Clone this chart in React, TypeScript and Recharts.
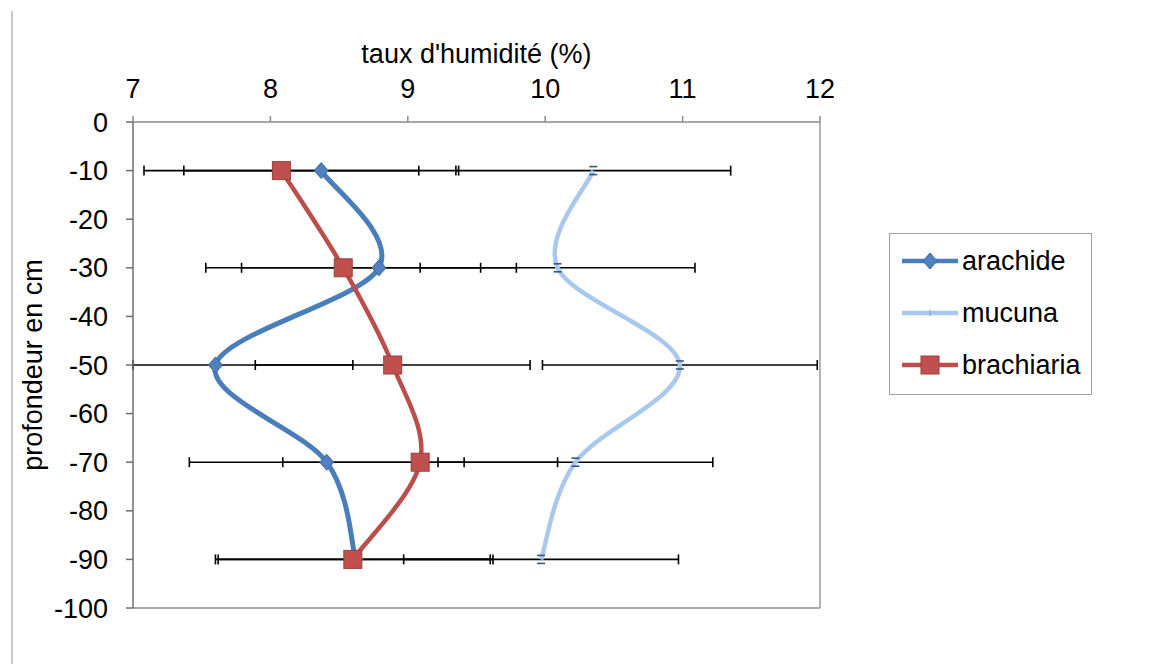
import React from "react";
import {
  LineChart,
  Line,
  XAxis,
  YAxis,
  ErrorBar,
  Legend,
  ReferenceLine,
} from "recharts";

const depths = [-10, -30, -50, -70, -90];
const arachide = [8.37, 8.79, 7.6, 8.41, 8.62];
const mucuna = [10.35, 10.09, 10.98, 10.22, 9.97];
const brachiaria = [8.08, 8.53, 8.89, 9.09, 8.6];
const arachideErr = [1, 1, 1, 1, 1];
const mucunaErr = [1, 1, 1, 1, 1];
const brachiariaErr = [1, 1, 1, 1, 1];

const xTicks = [7, 8, 9, 10, 11, 12];
const yTicks = [0, -10, -20, -30, -40, -50, -60, -70, -80, -90, -100];
const seriesOrder = ["arachide", "mucuna", "brachiaria"];

const X_MIN = xTicks[0];
const X_MAX = xTicks[xTicks.length - 1];

const data = depths.map((depth, i) => ({
  depth,
  arachide: arachide[i],
  arachideErr: arachideErr[i],
  mucuna: mucuna[i],
  mucunaErr: mucunaErr[i],
  brachiaria: brachiaria[i],
  brachiariaErr: brachiariaErr[i],
}));

// error bar cut at the plot edges, like Excel does
const clippedErr = (key: string) => (d: any) => [
  Math.min(d[key + "Err"], d[key] - X_MIN),
  Math.min(d[key + "Err"], X_MAX - d[key]),
];

const FONT = "'Liberation Sans', Arial, sans-serif";
const BLUE = "#4a7ebb";
const LIGHT = "#a9c8ee";
const RED = "#b94e4a";

// Excel-like smoothed line (Catmull-Rom through the points)
function smoothCurve(context: any) {
  let pts: number[][] = [];
  return {
    areaStart() {},
    areaEnd() {},
    lineStart() {
      pts = [];
    },
    point(x: number, y: number) {
      pts.push([+x, +y]);
    },
    lineEnd() {
      if (!pts.length) return;
      context.moveTo(pts[0][0], pts[0][1]);
      for (let i = 0; i < pts.length - 1; i++) {
        const p0 = pts[i - 1] || pts[i];
        const p1 = pts[i];
        const p2 = pts[i + 1];
        const p3 = pts[i + 2] || p2;
        context.bezierCurveTo(
          p1[0] + (p2[0] - p0[0]) / 6,
          p1[1] + (p2[1] - p0[1]) / 6,
          p2[0] - (p3[0] - p1[0]) / 6,
          p2[1] - (p3[1] - p1[1]) / 6,
          p2[0],
          p2[1]
        );
      }
    },
  };
}

const Diamond = (props: any) => {
  const { cx, cy, index } = props;
  if (cx == null || cy == null) return null;
  return (
    <path
      key={`a-${index}`}
      d={`M${cx},${cy - 8}L${cx + 7},${cy}L${cx},${cy + 8}L${cx - 7},${cy}Z`}
      fill="#4f81bd"
      stroke="#3d669c"
      strokeWidth={1}
    />
  );
};

const Square = (props: any) => {
  const { cx, cy, index } = props;
  if (cx == null || cy == null) return null;
  return (
    <rect
      key={`b-${index}`}
      x={cx - 9}
      y={cy - 9}
      width={18}
      height={18}
      fill="#c0504d"
      stroke="#99403d"
      strokeWidth={1}
    />
  );
};

const Dash = (props: any) => {
  const { cx, cy, index } = props;
  if (cx == null || cy == null) return null;
  return (
    <g key={`m-${index}`} stroke="#3a5580" strokeWidth={1.6}>
      <line x1={cx - 4} x2={cx + 4} y1={cy - 4} y2={cy - 4} />
      <line x1={cx - 4} x2={cx + 4} y1={cy + 4} y2={cy + 4} />
    </g>
  );
};

const LegendBox = (props: any) => {
  const { payload = [] } = props;
  const items = [...payload].sort(
    (a: any, b: any) =>
      seriesOrder.indexOf(a.dataKey) - seriesOrder.indexOf(b.dataKey)
  );
  return (
    <div
      style={{
        border: "1.5px solid #a0a0a0",
        background: "#fff",
        padding: "1px 10px 3px 12px",
        fontFamily: FONT,
        fontSize: 27,
        color: "#000",
      }}
    >
      {items.map((item: any) => (
        <div
          key={item.value}
          style={{ display: "flex", alignItems: "center", height: 52 }}
        >
          <svg width={58} height={20} style={{ marginRight: 2 }}>
            <line
              x1={0}
              x2={56}
              y1={10}
              y2={10}
              stroke={item.color}
              strokeWidth={4.5}
            />
            {item.dataKey === "arachide" && (
              <path d="M28,2L35,10L28,18L21,10Z" fill="#4f81bd" stroke="#3d669c" />
            )}
            {item.dataKey === "mucuna" && (
              <line x1={28} x2={28} y1={7} y2={13} stroke="#8fb0dc" strokeWidth={1.5} />
            )}
            {item.dataKey === "brachiaria" && (
              <rect x={19} y={1} width={18} height={18} fill="#c0504d" stroke="#99403d" />
            )}
          </svg>
          <span>{item.value}</span>
        </div>
      ))}
    </div>
  );
};

const YTitle = (props: any) => {
  const { viewBox } = props;
  const x = viewBox.x + 23;
  const y = viewBox.y + viewBox.height / 2;
  return (
    <text
      x={x}
      y={y}
      transform={`rotate(-90, ${x}, ${y})`}
      textAnchor="middle"
      dominantBaseline="central"
      fontSize={27}
      fontFamily={FONT}
      fill="#000"
    >
      profondeur en cm
    </text>
  );
};

export default function App() {
  return (
    <div
      style={{
        position: "absolute",
        left: 0,
        top: 0,
        width: 1167,
        height: 664,
        background: "#fff",
      }}
    >
      <div
        style={{
          position: "absolute",
          left: 11,
          top: 11,
          width: 2,
          height: 653,
          background: "#c8c8c8",
        }}
      />
      <LineChart
        width={1167}
        height={664}
        data={data}
        layout="vertical"
        margin={{ top: 30, right: 347, bottom: 56, left: 10 }}
        style={{ fontFamily: FONT }}
      >
        <XAxis
          type="number"
          orientation="top"
          domain={[X_MIN, X_MAX]}
          ticks={xTicks}
          allowDataOverflow
          height={92}
          tickSize={6}
          tickMargin={18}
          tick={{ fontSize: 27, fill: "#000", fontFamily: FONT }}
          axisLine={{ stroke: "#8a8a8a", strokeWidth: 1.5 }}
          tickLine={{ stroke: "#8a8a8a", strokeWidth: 1.5 }}
          label={{
            value: "taux d'humidité (%)",
            position: "insideTop",
            offset: 14,
            fontSize: 27,
            fill: "#000",
            fontFamily: FONT,
          }}
        />
        <YAxis
          type="number"
          dataKey="depth"
          domain={[-100, 0]}
          ticks={yTicks}
          interval={0}
          reversed
          width={123}
          tickSize={7}
          tickMargin={18}
          tick={{ fontSize: 27, fill: "#000", fontFamily: FONT }}
          axisLine={{ stroke: "#6f6f6f", strokeWidth: 1.5 }}
          tickLine={{ stroke: "#6f6f6f", strokeWidth: 1.5 }}
          label={{ content: <YTitle /> }}
        />
        <ReferenceLine x={X_MAX} stroke="#9a9a9a" strokeWidth={1.5} />
        <ReferenceLine y={-100} stroke="#8a8a8a" strokeWidth={1.5} />
        <Legend
          layout="vertical"
          align="center"
          verticalAlign="middle"
          wrapperStyle={{ left: 889, top: 233, width: "auto" }}
          content={<LegendBox />}
        />
        <Line
          dataKey="arachide"
          name="arachide"
          stroke={BLUE}
          strokeWidth={5}
          type={smoothCurve as any}
          dot={Diamond}
          activeDot={false}
          isAnimationActive={false}
        >
          <ErrorBar
            dataKey={clippedErr("arachide")}
            direction="x"
            width={5}
            stroke="#000"
            strokeWidth={1.6}
            isAnimationActive={false}
          />
        </Line>
        <Line
          dataKey="mucuna"
          name="mucuna"
          stroke={LIGHT}
          strokeWidth={4.5}
          type={smoothCurve as any}
          dot={Dash}
          activeDot={false}
          isAnimationActive={false}
        >
          <ErrorBar
            dataKey={clippedErr("mucuna")}
            direction="x"
            width={5}
            stroke="#000"
            strokeWidth={1.6}
            isAnimationActive={false}
          />
        </Line>
        <Line
          dataKey="brachiaria"
          name="brachiaria"
          stroke={RED}
          strokeWidth={4.5}
          type={smoothCurve as any}
          dot={Square}
          activeDot={false}
          isAnimationActive={false}
        >
          <ErrorBar
            dataKey={clippedErr("brachiaria")}
            direction="x"
            width={5}
            stroke="#000"
            strokeWidth={1.6}
            isAnimationActive={false}
          />
        </Line>
      </LineChart>
    </div>
  );
}
